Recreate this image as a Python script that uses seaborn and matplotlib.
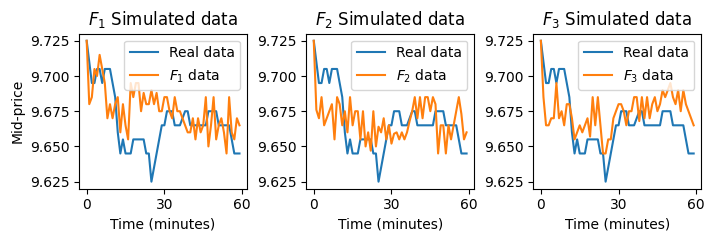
import numpy as np
import pandas as pd
import matplotlib
matplotlib.use("Agg")
import matplotlib.pyplot as plt
import seaborn as sns

# time axis (minutes)
minutes = list(range(60))

real_data = [9.725, 9.710, 9.695, 9.695, 9.705, 9.705, 9.695, 9.705, 9.705, 9.705,
             9.695, 9.685, 9.660, 9.645, 9.655, 9.645, 9.645, 9.645, 9.655, 9.655,
             9.655, 9.655, 9.655, 9.645, 9.645, 9.625, 9.635, 9.645, 9.655, 9.665,
             9.665, 9.675, 9.675, 9.675, 9.665, 9.665, 9.665, 9.670, 9.675, 9.675,
             9.665, 9.665, 9.665, 9.665, 9.665, 9.665, 9.665, 9.675, 9.675, 9.675,
             9.675, 9.665, 9.665, 9.665, 9.665, 9.665, 9.655, 9.645, 9.645, 9.645]

f1_data = [9.725, 9.680, 9.685, 9.705, 9.700, 9.715, 9.705, 9.695, 9.670, 9.680,
           9.670, 9.680, 9.685, 9.660, 9.680, 9.665, 9.655, 9.695, 9.685, 9.695,
           9.695, 9.675, 9.688, 9.680, 9.680, 9.690, 9.680, 9.688, 9.675, 9.675,
           9.685, 9.685, 9.675, 9.670, 9.685, 9.675, 9.675, 9.670, 9.665, 9.660,
           9.660, 9.670, 9.655, 9.670, 9.660, 9.665, 9.685, 9.650, 9.665, 9.685,
           9.655, 9.665, 9.670, 9.660, 9.645, 9.685, 9.660, 9.655, 9.670, 9.665]

f2_data = [9.725, 9.676, 9.670, 9.685, 9.665, 9.670, 9.675, 9.680, 9.655, 9.685,
           9.680, 9.665, 9.675, 9.660, 9.685, 9.665, 9.675, 9.675, 9.655, 9.675,
           9.650, 9.660, 9.647, 9.675, 9.650, 9.664, 9.660, 9.670, 9.655, 9.665,
           9.652, 9.659, 9.660, 9.655, 9.660, 9.655, 9.660, 9.668, 9.675, 9.685,
           9.670, 9.685, 9.670, 9.685, 9.685, 9.675, 9.685, 9.680, 9.645, 9.665,
           9.665, 9.645, 9.665, 9.655, 9.665, 9.675, 9.685, 9.673, 9.655, 9.660]

f3_data = [9.725, 9.685, 9.665, 9.665, 9.670, 9.670, 9.695, 9.670, 9.675, 9.665,
           9.680, 9.680, 9.670, 9.655, 9.660, 9.665, 9.660, 9.665, 9.670, 9.657,
           9.685, 9.665, 9.685, 9.665, 9.645, 9.645, 9.655, 9.655, 9.670, 9.675,
           9.680, 9.680, 9.675, 9.665, 9.675, 9.675, 9.685, 9.685, 9.668, 9.685,
           9.670, 9.685, 9.670, 9.680, 9.685, 9.675, 9.680, 9.690, 9.685, 9.690,
           9.695, 9.685, 9.680, 9.690, 9.675, 9.690, 9.680, 9.675, 9.670, 9.665]

sim_series = [f1_data, f2_data, f3_data]
sim_names = ["$F_1$", "$F_2$", "$F_3$"]

pal = sns.color_palette("tab10")

fig, axes = plt.subplots(1, 3, figsize=(7.12, 2.41), dpi=100)

for i, ax in enumerate(axes):
    sns.lineplot(x=minutes, y=real_data, ax=ax, color=pal[0], label="Real data")
    sns.lineplot(x=minutes, y=sim_series[i], ax=ax, color=pal[1],
                 label="{} data".format(sim_names[i]))
    ax.set_title("{} Simulated data".format(sim_names[i]))
    ax.set_xlabel("Time (minutes)")
    ax.set_xticks([0, 30, 60])
    ax.set_yticks([9.625, 9.650, 9.675, 9.700, 9.725])
    ax.legend(loc="upper right")

axes[0].set_ylabel("Mid-price")

fig.subplots_adjust(left=0.111, right=0.985, top=0.860, bottom=0.217, wspace=0.351)
fig.savefig("out.png", dpi=100)
